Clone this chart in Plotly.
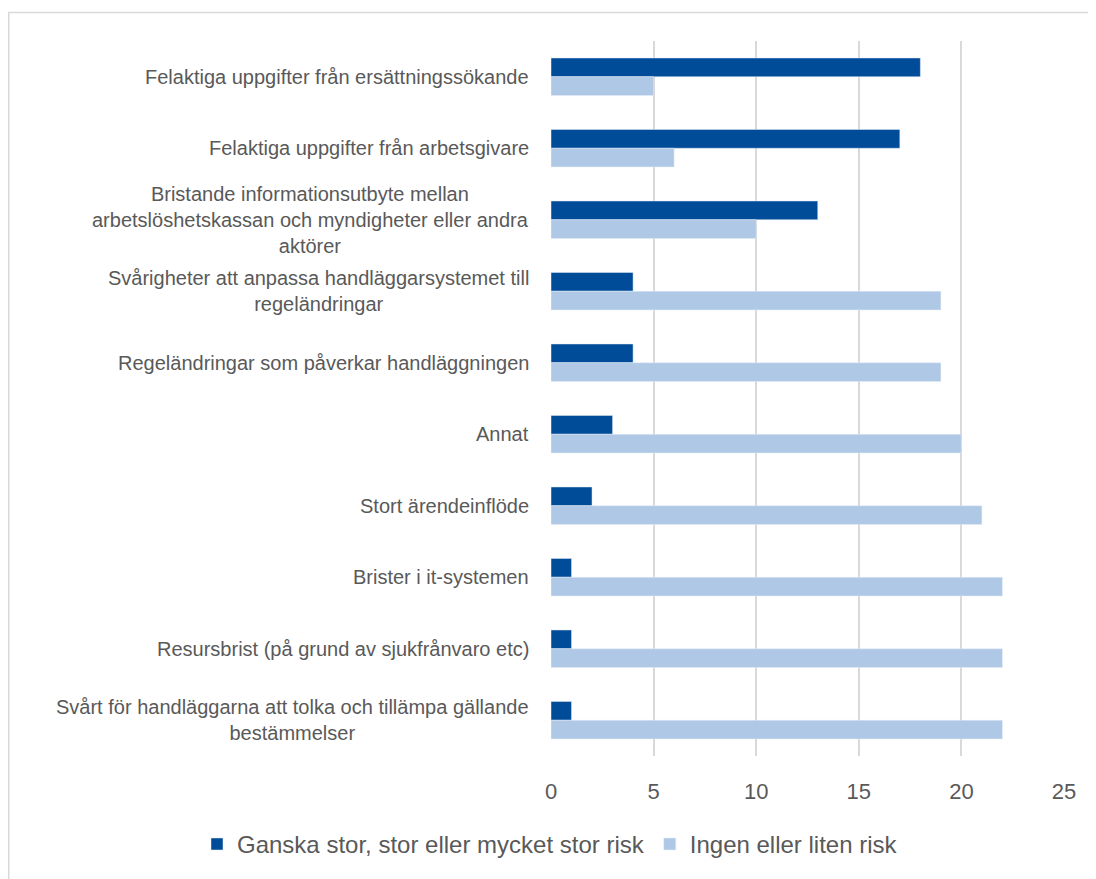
import plotly.graph_objects as go

categories = [
    "Felaktiga uppgifter från ersättningssökande",
    "Felaktiga uppgifter från arbetsgivare",
    "Bristande informationsutbyte mellan<br>arbetslöshetskassan och myndigheter eller andra<br>aktörer",
    "Svårigheter att anpassa handläggarsystemet till<br>regeländringar",
    "Regeländringar som påverkar handläggningen",
    "Annat",
    "Stort ärendeinflöde",
    "Brister i it-systemen",
    "Resursbrist (på grund av sjukfrånvaro etc)",
    "Svårt för handläggarna att tolka och tillämpa gällande<br>bestämmelser",
]
series_names = ["Ganska stor, stor eller mycket stor risk", "Ingen eller liten risk"]
high_risk = [18, 17, 13, 4, 4, 3, 2, 1, 1, 1]
low_risk = [5, 6, 10, 19, 19, 20, 21, 22, 22, 22]
x_ticks = [0, 5, 10, 15, 20, 25]

dark = "#014C98"
light = "#AFC8E6"
grey_text = "#595959"

# page body has an 8px margin; figure sized to fit the window
OFF = 8
W, H = 1096 - OFF, 879 - OFF
L = 551 - OFF
R = W - (1064 - OFF)
T = 41 - OFF
B = H - (769 - OFF)
pw, ph = W - L - R, H - T - B

fig = go.Figure()
fig.add_trace(go.Bar(y=categories, x=high_risk, orientation="h", name=series_names[0],
                     marker=dict(color=dark)))
fig.add_trace(go.Bar(y=categories, x=low_risk, orientation="h", name=series_names[1],
                     marker=dict(color=light)))

annotations = []
for c in categories:
    annotations.append(dict(
        x=((531 - OFF) - L) / pw, xref="paper", y=c, yref="y",
        text=c, showarrow=False, xanchor="right", yanchor="middle", align="center",
        font=dict(family="Liberation Sans, Arial", size=20, color=grey_text),
    ))

legend_left_page = 213 - 16
fig.update_layout(
    width=W, height=H,
    margin=dict(l=L, r=R, t=T, b=B),
    paper_bgcolor="white", plot_bgcolor="white",
    barmode="group", bargap=0.475, bargroupgap=0,
    font=dict(family="Liberation Sans, Arial", color=grey_text),
    xaxis=dict(range=[0, 25], tickvals=x_ticks, showgrid=True, gridcolor="#D9D9D9",
               gridwidth=1.5, zeroline=False, showline=False,
               tickfont=dict(size=22, color=grey_text), ticks="", ticklabelstandoff=20),
    yaxis=dict(autorange="reversed", showticklabels=False, showgrid=False, zeroline=False,
               showline=False, ticks=""),
    legend=dict(orientation="h", xref="paper", yref="paper",
                x=((legend_left_page - OFF) - L) / pw, xanchor="left",
                y=((H - B) - (859 - OFF)) / ph, yanchor="middle",
                font=dict(size=24, color=grey_text), traceorder="normal",
                itemwidth=30, bgcolor="rgba(0,0,0,0)"),
    annotations=annotations,
    shapes=[dict(type="rect", xref="paper", yref="paper",
                 x0=(0.75 - L) / pw, x1=(W + 40 - L) / pw,
                 y0=((H - B) - (H + 40)) / ph, y1=((H - B) - (12 - OFF)) / ph,
                 line=dict(color="#D9D9D9", width=1.5), fillcolor="rgba(0,0,0,0)",
                 layer="below")],
)

fig.write_html("out.html")
